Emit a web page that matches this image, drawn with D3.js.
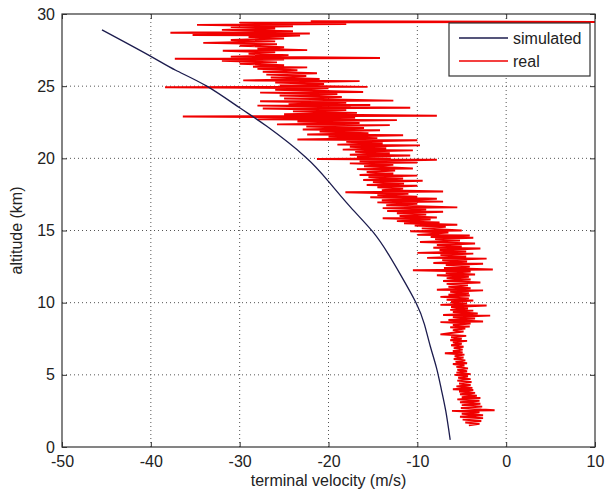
<!DOCTYPE html>
<html>
<head>
<meta charset="utf-8">
<script src="https://cdn.jsdelivr.net/npm/d3@7"></script>
<style>
  body { margin: 0; background: #fff; }
  text { font-family: "Liberation Sans", Arial, sans-serif; fill: #222; }
</style>
</head>
<body>
<div class="svg"></div>
<script>

// x ticks / y ticks as shown on the figure
var xTicks = [-50, -40, -30, -20, -10, 0, 10];
var yTicks = [0, 5, 10, 15, 20, 25, 30];

// simulated curve: [altitude km, velocity m/s]
var simulated = [
  [28.9, -45.5], [27.1, -40.1], [26.1, -37.2], [25.0, -33.7], [23.5, -30.0],
  [22.2, -26.9], [20.1, -22.6], [18.4, -20.0], [16.6, -17.5], [14.9, -15.0],
  [13.4, -13.3], [12.0, -11.95], [10.0, -10.15], [8.5, -9.2], [7.0, -8.55],
  [5.5, -7.85], [4.0, -7.3], [2.5, -6.8], [0.5, -6.3]
];

// measured descent: [altitude km, velocity m/s]
var real = [
  [29.5, -22], [29.45, 12], [29.4, -30], [29.3, -18], [29.25, -34.8], [29.15, -24],
  [29.1, -31], [29.0, -26], [28.9, -32], [28.8, -24], [28.7, -37.8], [28.65, -22.1],
  [28.55, -35.3], [28.5, -23.2], [28.4, -29], [28.3, -25], [28.2, -31], [28.1, -26],
  [28.0, -34.1], [27.9, -25.8], [27.8, -30], [27.7, -25], [27.6, -28], [27.5, -22.4],
  [27.45, -31.9], [27.35, -26], [27.25, -29], [27.15, -24.5], [27.05, -31], [26.95, -14.2],
  [26.9, -37.3], [26.85, -25], [26.75, -32], [26.65, -25.8], [26.55, -30], [26.45, -25],
  [26.35, -28.5], [26.3, -22.4], [26.2, -28], [26.1, -23.5], [26.0, -27.4], [25.9, -21.3],
  [25.8, -27], [25.7, -22.5], [25.6, -26.5], [25.5, -21], [25.4, -29.6], [25.35, -16.5],
  [25.25, -26], [25.15, -20.5], [25.05, -25.5], [24.95, -15.6], [24.93, -38.4], [24.85, -20],
  [24.75, -26], [24.6, -16.1], [24.55, -27.7], [24.45, -19], [24.35, -25.5], [24.25, -18.5],
  [24.15, -25], [24.0, -12.7], [23.95, -27.7], [23.85, -18], [23.75, -24.5], [23.7, -15.3],
  [23.65, -28], [23.55, -17.5], [23.5, -10.8], [23.45, -27.4], [23.35, -18], [23.25, -24],
  [23.15, -16.8], [23.05, -25], [22.95, -7.8], [22.9, -36.4], [22.8, -17], [22.7, -28],
  [22.65, -12.3], [22.55, -23.5], [22.45, -16.5], [22.35, -25.8], [22.3, -13.1], [22.2, -22.5],
  [22.1, -16], [22.0, -22.9], [21.95, -14.2], [21.85, -21], [21.75, -15.5], [21.65, -22.4],
  [21.6, -11.6], [21.5, -20], [21.4, -14.5], [21.3, -23.5], [21.25, -10], [21.15, -18],
  [21.05, -13.9], [20.95, -19], [20.9, -9.7], [20.8, -17.6], [20.7, -13.5], [20.6, -18.4],
  [20.55, -10.5], [20.45, -17], [20.35, -13.1], [20.25, -17.6], [20.2, -10.8], [20.1, -16.8],
  [20.0, -13], [19.95, -21.3], [19.9, -7.8], [19.8, -16.5], [19.7, -10], [19.65, -17.6],
  [19.55, -12.7], [19.45, -16], [19.3, -10.5], [19.25, -16.8], [19.15, -12.5], [19.05, -15.7],
  [18.95, -12.7], [18.85, -16.5], [18.8, -10], [18.7, -15.5], [18.6, -11.6], [18.5, -16.1],
  [18.45, -9.4], [18.35, -15], [18.25, -11.5], [18.15, -15.7], [18.1, -10], [18.0, -14.5],
  [17.9, -11.6], [17.8, -14], [17.7, -7.1], [17.65, -18.1], [17.55, -11], [17.45, -14.5],
  [17.35, -10], [17.3, -15.3], [17.2, -7.8], [17.1, -14], [17.0, -7.1], [16.95, -14.5],
  [16.85, -10], [16.75, -13.5], [16.6, -5.5], [16.55, -13.9], [16.45, -9], [16.35, -13.4],
  [16.3, -7.1], [16.2, -12.3], [16.1, -9], [16.0, -12], [15.9, -7.8], [15.85, -13.9],
  [15.75, -8.5], [15.65, -12.3], [15.55, -7.5], [15.5, -11.5], [15.4, -5.5], [15.35, -10.3],
  [15.25, -6.8], [15.15, -9.5], [15.0, -5.0], [14.95, -10.8], [14.85, -6.5], [14.7, -10.0],
  [14.65, -4.1], [14.55, -8.5], [14.5, -3.7], [14.4, -8], [14.3, -5.2], [14.2, -9.7],
  [14.1, -3.5], [14.0, -7.8], [13.9, -5], [13.8, -8.2], [13.75, -2.9], [13.65, -7.5],
  [13.55, -4.5], [13.45, -10.0], [13.4, -3.7], [13.3, -7.4], [13.2, -4.5], [13.1, -8.9],
  [13.05, -2.2], [12.95, -7.2], [12.85, -4.4], [12.75, -8.2], [12.7, -2.6], [12.6, -6.8],
  [12.5, -4.1], [12.4, -7], [12.3, -1.5], [12.25, -10.5], [12.15, -4], [12.05, -6.8],
  [11.95, -3.5], [11.9, -7.8], [11.8, -4.2], [11.7, -6.7], [11.6, -4], [11.5, -7.1],
  [11.4, -2.9], [11.3, -6.7], [11.2, -4.3], [11.1, -6.5], [11.0, -4.0], [10.9, -7.8],
  [10.85, -2.6], [10.75, -6.3], [10.65, -4.2], [10.55, -6.5], [10.5, -4.1], [10.4, -7.4],
  [10.3, -4.2], [10.2, -6.7], [10.15, -3.7], [10.05, -6.2], [9.95, -4.4], [9.85, -7.4],
  [9.8, -2.2], [9.7, -6.2], [9.6, -4.3], [9.5, -6.3], [9.45, -3.7], [9.35, -6.0],
  [9.25, -3.2], [9.15, -7.1], [9.1, -1.8], [9.0, -6.0], [8.9, -3.5], [8.8, -6.5],
  [8.7, -2.6], [8.65, -7.4], [8.55, -4.0], [8.45, -6.0], [8.35, -4.1], [8.3, -6.3],
  [8.2, -4.6], [8.1, -6.0], [8.0, -4.8], [7.9, -6.2], [7.8, -7.4], [7.7, -4.5],
  [7.6, -6.2], [7.5, -5.0], [7.4, -6.3], [7.35, -4.4], [7.25, -6.0], [7.15, -5.0],
  [7.05, -6.2], [6.95, -4.8], [6.85, -5.9], [6.75, -4.9], [6.65, -6.0], [6.55, -4.9],
  [6.5, -6.9], [6.4, -4.7], [6.3, -5.8], [6.2, -4.8], [6.1, -5.9], [6.0, -4.6],
  [5.9, -5.7], [5.8, -4.4], [5.75, -6.0], [5.65, -4.7], [5.55, -5.6], [5.45, -4.3],
  [5.35, -5.5], [5.25, -4.4], [5.15, -5.6], [5.05, -4.0], [5.0, -5.8], [4.9, -4.3],
  [4.8, -5.4], [4.7, -4.0], [4.6, -5.5], [4.5, -3.9], [4.4, -5.3], [4.3, -4.0],
  [4.2, -5.6], [4.1, -3.8], [4.0, -6.0], [3.95, -3.7], [3.85, -5.3], [3.75, -3.5],
  [3.65, -5.2], [3.55, -3.3], [3.45, -5.0], [3.4, -2.9], [3.3, -5.5], [3.2, -3.0],
  [3.1, -5.2], [3.0, -2.9], [2.9, -5.0], [2.8, -2.7], [2.7, -5.1], [2.6, -2.8],
  [2.55, -1.3], [2.5, -6.1], [2.4, -3.0], [2.3, -5.0], [2.2, -2.6], [2.1, -5.2],
  [2.0, -2.6], [1.9, -4.9], [1.8, -2.8], [1.7, -4.6], [1.6, -3.0], [1.5, -4.2]
];

var seriesNames = ["simulated", "real"];
var seriesColors = ["#1c1c4e", "#f00000"];

var margin = {top: 14, right: 17, bottom: 47, left: 62},
	outerWidth = 612,
	outerHeight = 494,
	width = outerWidth - margin.left - margin.right,
	height = outerHeight - margin.top - margin.bottom;

var x = d3.scaleLinear().domain([-50, 10]).range([0, width]);
var y = d3.scaleLinear().domain([0, 30]).range([height, 0]);

var outer = d3.select(".svg").append("svg")
	.attr("width", outerWidth)
	.attr("height", outerHeight);

outer.append("rect")
	.attr("width", outerWidth)
	.attr("height", outerHeight)
	.attr("fill", "#fff");

var svg = outer.append("g")
	.attr("transform", "translate(" + margin.left + "," + margin.top + ")");

svg.append("clipPath").attr("id", "plot-clip")
	.append("rect").attr("width", width).attr("height", height);

// dotted grid
svg.append("g").selectAll("line").data(xTicks.slice(1, -1)).join("line")
	.attr("x1", d => x(d)).attr("x2", d => x(d))
	.attr("y1", 0).attr("y2", height)
	.attr("stroke", "#555").attr("stroke-width", 1).attr("stroke-dasharray", "1,3");

svg.append("g").selectAll("line").data(yTicks.slice(1, -1)).join("line")
	.attr("y1", d => y(d)).attr("y2", d => y(d))
	.attr("x1", 0).attr("x2", width)
	.attr("stroke", "#555").attr("stroke-width", 1).attr("stroke-dasharray", "1,3");

var line = d3.line()
	.x(d => x(d[1]))
	.y(d => y(d[0]));

var plot = svg.append("g").attr("clip-path", "url(#plot-clip)");

plot.append("path")
	.attr("d", line(real))
	.attr("fill", "none")
	.attr("stroke", seriesColors[1])
	.attr("stroke-width", 1.9)
	.attr("stroke-linejoin", "bevel");

plot.append("path")
	.attr("d", line.curve(d3.curveNatural)(simulated))
	.attr("fill", "none")
	.attr("stroke", seriesColors[0])
	.attr("stroke-width", 1.3);

// axes, ticks inward on all four sides (MATLAB box)
var tk = 5;
var xAxis = d3.axisBottom(x).tickValues(xTicks).tickSize(-tk).tickPadding(9).tickFormat(d3.format("d"));
var yAxis = d3.axisLeft(y).tickValues(yTicks).tickSize(-tk).tickPadding(7).tickFormat(d3.format("d"));

var gx = svg.append("g").attr("transform", "translate(0," + height + ")").call(xAxis);
var gy = svg.append("g").call(yAxis);
var gxt = svg.append("g").call(d3.axisTop(x).tickValues(xTicks).tickSize(-tk).tickFormat(""));
var gyr = svg.append("g").attr("transform", "translate(" + width + ",0)")
	.call(d3.axisRight(y).tickValues(yTicks).tickSize(-tk).tickFormat(""));

[gx, gy, gxt, gyr].forEach(function(g){
	g.select(".domain").remove();
	g.selectAll("line").attr("stroke", "#333");
	g.selectAll("text").attr("font-size", 16).attr("fill", "#222")
		.style("font-family", "'Liberation Sans', Arial, sans-serif");
});
gx.selectAll("text").text(d => d < 0 ? "-" + Math.abs(d) : d);

svg.append("rect")
	.attr("width", width).attr("height", height)
	.attr("fill", "none").attr("stroke", "#333").attr("stroke-width", 1.2);

svg.append("text")
	.attr("x", x(-20)).attr("y", height + 39)
	.attr("text-anchor", "middle").attr("font-size", 16)
	.text("terminal velocity (m/s)");

svg.append("text")
	.attr("transform", "translate(" + (-40) + "," + y(15) + ") rotate(-90)")
	.attr("text-anchor", "middle").attr("font-size", 16)
	.text("altitude (km)");

// legend
var lg = svg.append("g").attr("transform", "translate(" + (449 - margin.left) + "," + (23 - margin.top) + ")");
lg.append("rect").attr("width", 141).attr("height", 53)
	.attr("fill", "#fff").attr("stroke", "#333").attr("stroke-width", 1.2);
seriesNames.forEach(function(name, i){
	var yy = 15 + i * 23;
	lg.append("line").attr("x1", 10).attr("x2", 59).attr("y1", yy).attr("y2", yy)
		.attr("stroke", seriesColors[i]).attr("stroke-width", 1.3);
	lg.append("text").attr("x", 64).attr("y", yy + 6).attr("font-size", 16).text(name);
});

</script>
</body>
</html>
